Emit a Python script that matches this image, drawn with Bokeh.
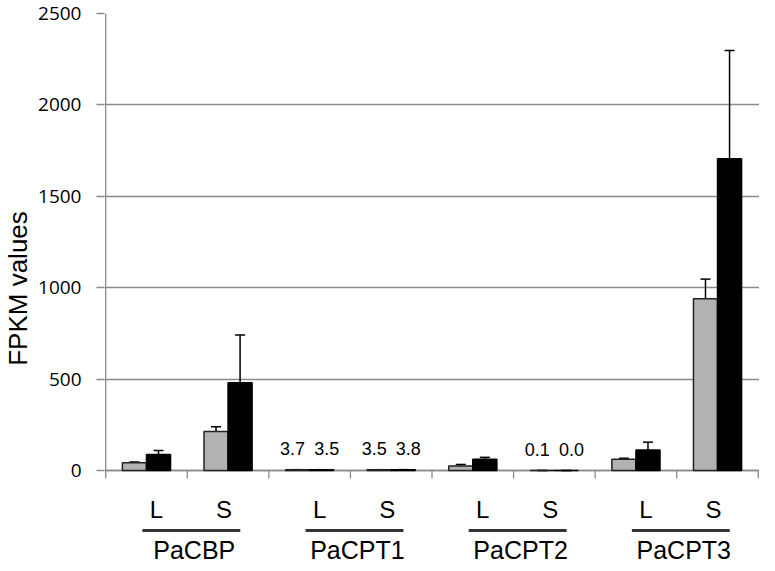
import numpy as np
from bokeh.plotting import figure
from bokeh.models import Range1d, FixedTicker, ColumnDataSource, Whisker, TeeHead
from bokeh.embed import file_html
from bokeh.resources import INLINE
from bokeh.core.properties import value

# ---- data ----
genes = ["PaCBP", "PaCPT1", "PaCPT2", "PaCPT3"]
tissues = ["L", "S"]
gray_values = [43, 213, 3.7, 3.5, 25, 0.1, 61, 940]
gray_errors = [4, 26, 1, 1, 8, 0.1, 6, 107]
black_values = [87, 480, 3.5, 3.8, 61, 0.0, 112, 1706]
black_errors = [23, 261, 1, 1, 11, 0.0, 43, 592]
y_ticks = [0, 500, 1000, 1500, 2000, 2500]

n = len(gray_values)
centers = np.arange(n) + 0.5
gene_centers = np.arange(len(genes)) * 2 + 1.0
bw = 0.295
gray_x = centers - bw / 2
black_x = centers + bw / 2

# ---- layout constants (pixels inside the figure) ----
W, H = 759, 563
LEFT = 98
TOP = 13
ZERO_PX = 470
YMAX = 2500
ppu = (ZERO_PX - TOP) / YMAX          # pixels per data unit
y_min = -(H - ZERO_PX) / ppu
pad = 1.2 / ((W - LEFT) / n)          # ~1px of x padding in data units

GRID = "#8a8a8a"
FONT = "Liberation Sans"

p = figure(width=W, height=H, x_range=Range1d(-pad, n + pad), y_range=Range1d(y_min, YMAX),
           output_backend="svg", toolbar_location=None, x_axis_location=None,
           min_border_left=LEFT, min_border_right=0, min_border_top=TOP, min_border_bottom=0)
p.outline_line_color = None
p.xgrid.grid_line_color = None
p.ygrid.grid_line_color = GRID
p.ygrid.grid_line_width = 1.3

p.yaxis.ticker = FixedTicker(ticks=y_ticks)
p.yaxis.axis_line_color = None
p.yaxis.major_tick_out = 8
p.yaxis.major_tick_in = 0
p.yaxis.minor_tick_line_color = None
p.yaxis.major_tick_line_color = GRID
p.yaxis.major_tick_line_width = 1.3
p.yaxis.major_label_text_font = "Open Sans"
p.yaxis.major_label_text_font_size = "19px"
p.yaxis.major_label_text_color = "black"
p.yaxis.major_label_standoff = 15
p.yaxis.axis_label = "FPKM values"
p.yaxis.axis_label_text_font = FONT
p.yaxis.axis_label_text_font_size = "26px"
p.yaxis.axis_label_text_font_style = "normal"
p.yaxis.axis_label_text_color = "black"
p.yaxis.axis_label_standoff = 2

# axis lines and category tick marks
p.segment(x0=[0], x1=[0], y0=[0], y1=[YMAX], line_color=GRID, line_width=1.3)
p.segment(x0=[0], x1=[n], y0=[0], y1=[0], line_color=GRID, line_width=1.3)
bounds = list(range(n + 1))
p.segment(x0=bounds, x1=bounds, y0=[0] * (n + 1), y1=[-8 / ppu] * (n + 1),
          line_color=GRID, line_width=1.3)

# bars
p.vbar(x=gray_x, top=gray_values, bottom=0, width=bw,
       fill_color="#b2b2b2", line_color="#222222", line_width=1.5)
p.vbar(x=black_x, top=black_values, bottom=0, width=bw,
       fill_color="black", line_color="black", line_width=1.5)

for xs, vals, errs in ((gray_x, gray_values, gray_errors), (black_x, black_values, black_errors)):
    src = ColumnDataSource(dict(
        x=list(xs),
        upper=[v + e for v, e in zip(vals, errs)],
        lower=[v - e for v, e in zip(vals, errs)],
    ))
    w = Whisker(base="x", upper="upper", lower="lower", source=src, dimension="height",
                line_color="black", line_width=1.5,
                upper_head=TeeHead(size=10, line_color="black", line_width=1.5),
                lower_head=TeeHead(size=10, line_color="black", line_width=1.5))
    p.add_layout(w)

# small value labels
lab_x, lab_y, lab_t, lab_off = [], [], [], []
for xs, vals, off in ((gray_x, gray_values, -5), (black_x, black_values, 5)):
    for xv, v in zip(xs, vals):
        if v < 10:
            lab_x.append(xv)
            lab_y.append(v)
            lab_t.append("%.1f" % v)
            lab_off.append(off)
p.text(x=lab_x, y=lab_y, text=lab_t, x_offset=lab_off, text_align="center",
       text_baseline="middle", y_offset=-21,
       text_font=value(FONT), text_font_size="18px", text_color="black")

# category labels below the axis
tissue_text = tissues * len(genes)
tissue_off = [10 if t == "L" else -4 for t in tissue_text]
p.text(x=centers, y=[0] * n, text=tissue_text, x_offset=tissue_off, y_offset=39,
       text_align="center", text_baseline="middle",
       text_font=value(FONT), text_font_size="24px", text_color="black")
ng = len(genes)
p.segment(x0=gene_centers - 0.55, x1=gene_centers + 0.65,
          y0=[-60 / ppu] * ng, y1=[-60 / ppu] * ng,
          line_color="#333333", line_width=3)
p.text(x=gene_centers, y=[0] * ng, text=genes, x_offset=7, y_offset=79,
       text_align="center", text_baseline="middle",
       text_font=value(FONT), text_font_size="25px", text_color="black")

open("out.html", "w").write(file_html(p, INLINE))
